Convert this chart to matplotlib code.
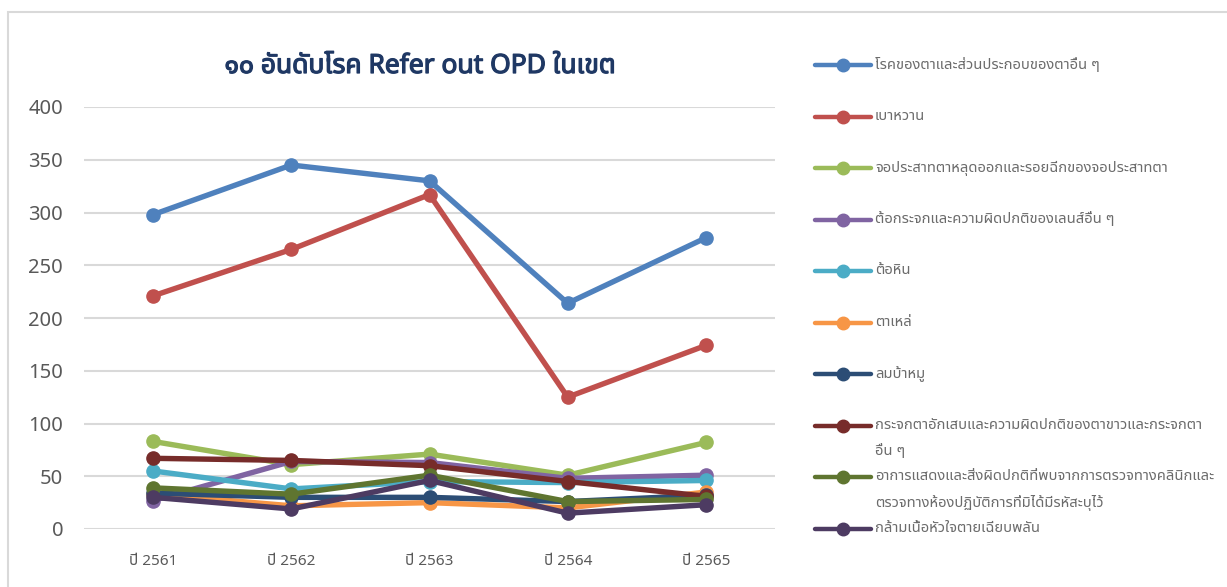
import matplotlib
matplotlib.use("Agg")
import matplotlib.pyplot as plt
import matplotlib.patheffects as pe
from matplotlib.lines import Line2D
from matplotlib.patches import Rectangle

# ---- data ----
years = ["ปี 2561", "ปี 2562", "ปี 2563", "ปี 2564", "ปี 2565"]
eye_other = [298, 345, 330, 214, 276]
diabetes = [221, 265, 317, 125, 174]
retina_detach = [83, 61, 71, 51, 82]
cataract_lens = [27, 64, 63, 48, 51]
glaucoma = [55, 38, 45, 44, 46]
strabismus = [33, 22, 25, 20, 35]
bell_palsy = [34, 30, 30, 26, 32]
conjunctiva = [67, 65, 60, 45, 31]
symptoms_abn = [39, 33, 51, 26, 28]
mi = [30, 19, 46, 15, 23]

series = [eye_other, diabetes, retina_detach, cataract_lens, glaucoma,
          strabismus, bell_palsy, conjunctiva, symptoms_abn, mi]
labels = [
    ["โรคของตาและส่วนประกอบของตาอื่น ๆ"],
    ["เบาหวาน"],
    ["จอประสาทตาหลุดออกและรอยฉีกของจอประสาทตา"],
    ["ต้อกระจกและความผิดปกติของเลนส์อื่น ๆ"],
    ["ต้อหิน"],
    ["ตาเหล่"],
    ["ลมบ้าหมู"],
    ["กระจกตาอักเสบและความผิดปกติของตาขาวและกระจกตา", "อื่น ๆ"],
    ["อาการแสดงและสิ่งผิดปกติที่พบจากการตรวจทางคลินิกและ", "ตรวจทางห้องปฏิบัติการที่มิได้มีรหัสะบุไว้"],
    ["กล้ามเนื้อหัวใจตายเฉียบพลัน"],
]
colors = ["#4F81BD", "#C0504D", "#9BBB59", "#8064A2", "#4BACC6",
          "#F79646", "#2C4D75", "#772C2A", "#5F7530", "#4D3B62"]

plt.rcParams["font.family"] = ["Noto Sans Thai", "DejaVu Sans"]

W, H = 1227, 587
fig = plt.figure(figsize=(W / 100, H / 100), dpi=100)
fig.patch.set_facecolor("white")

# outer chart frame (only top and left edges are inside the picture)
fig.add_artist(Rectangle((8 / W, -0.05), 1.1, (H - 12) / H + 0.05,
                         transform=fig.transFigure, fill=False,
                         edgecolor="#D9D9D9", linewidth=1.5))

ax = fig.add_axes([84 / W, 1 - 529 / H, 691 / W, 422 / H])
x = range(len(years))
for vals, c in zip(series, colors):
    ln, = ax.plot(x, vals, color=c, linewidth=3.9, marker="o", markersize=9.5,
                  solid_capstyle="round")
    ln.set_clip_on(False)

ax.set_xlim(-0.5, 4.5)
ax.set_ylim(0, 400)
ax.set_yticks(range(0, 401, 50))
ax.set_xticks(list(x))
ax.set_xticklabels(years)
ax.grid(axis="y", color="#D9D9D9", linewidth=1.5)
ax.set_axisbelow(True)
for s in ax.spines.values():
    s.set_visible(False)
ax.tick_params(axis="y", length=0, labelsize=14.5, labelcolor="#595959", pad=15)
ax.tick_params(axis="x", length=0, labelsize=11, labelcolor="#595959", pad=18)

# the Thai font has no bold face, so thicken the title with a stroke
fig.text(420 / W, 1 - 66 / H, "๑๐ อันดับโรค Refer out OPD ในเขต",
         ha="center", va="center", fontsize=19, color="#1F3864",
         path_effects=[pe.withStroke(linewidth=0.9, foreground="#1F3864")])

# legend drawn on the right
for i, (lab, c) in enumerate(zip(labels, colors)):
    yy = 1 - (65 + i * 51.5) / H
    fig.add_artist(Line2D([815 / W, 871 / W], [yy, yy], transform=fig.transFigure,
                          color=c, linewidth=3.2, solid_capstyle="round"))
    fig.add_artist(Line2D([843 / W], [yy], transform=fig.transFigure,
                          color=c, marker="o", markersize=9))
    for j, part in enumerate(lab):
        fig.text(875 / W, yy - j * 26 / H, part, ha="left", va="center",
                 fontsize=10.6, color="#6B6B6B")

fig.savefig("out.png", dpi=100)
